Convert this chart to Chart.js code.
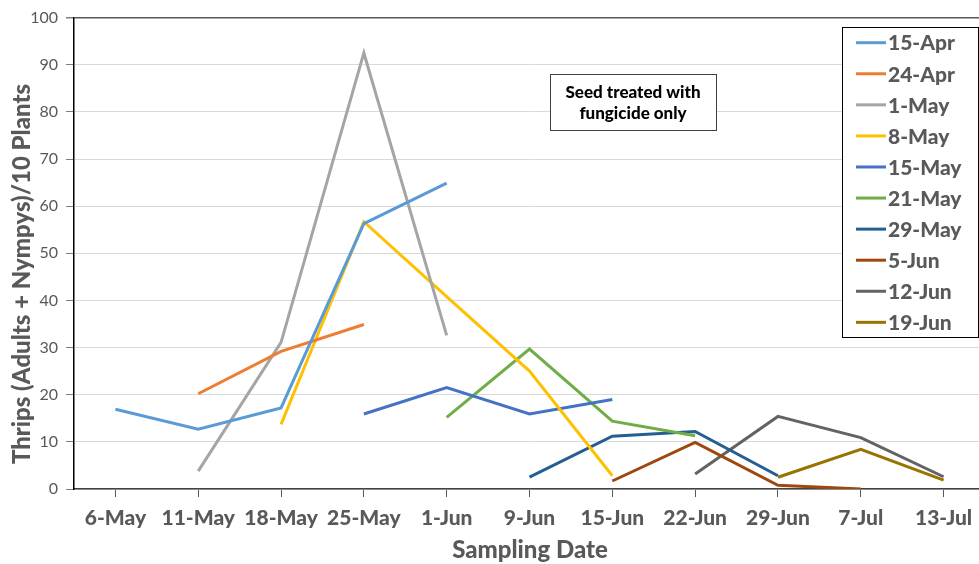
<!DOCTYPE html>
<html>
<head>
<meta charset="utf-8">
<script src="https://cdn.jsdelivr.net/npm/chart.js@4"></script>
<style>
  html, body { margin: 0; padding: 0; background: #fff; overflow: hidden; }
  canvas { display: block; }
</style>
</head>
<body>
<canvas id="c" width="990" height="564"></canvas>
<script>
// Sampling dates along the x axis
const samplingDates = ['6-May', '11-May', '18-May', '25-May', '1-Jun', '9-Jun', '15-Jun', '22-Jun', '29-Jun', '7-Jul', '13-Jul'];

// Planting dates (one series each) and their thrips counts per 10 plants
const plantingDates = ['15-Apr', '24-Apr', '1-May', '8-May', '15-May', '21-May', '29-May', '5-Jun', '12-Jun', '19-Jun'];
const apr15 = [16.9, 12.7, 17.2, 56.3, 64.9, null, null, null, null, null, null];
const apr24 = [null, 20.2, 29.2, 34.9, null, null, null, null, null, null, null];
const may1  = [null, 3.8, 31.1, 92.5, 32.6, null, null, null, null, null, null];
const may8  = [null, null, 13.7, 56.7, 40.8, 25.0, 2.8, null, null, null, null];
const may15 = [null, null, null, 15.9, 21.5, 15.9, 19.0, null, null, null, null];
const may21 = [null, null, null, null, 15.2, 29.7, 14.4, 11.3, null, null, null];
const may29 = [null, null, null, null, null, 2.5, 11.2, 12.2, 2.8, null, null];
const jun5  = [null, null, null, null, null, null, 1.7, 9.9, 0.8, 0.0, null];
const jun12 = [null, null, null, null, null, null, null, 3.2, 15.4, 10.9, 2.6];
const jun19 = [null, null, null, null, null, null, null, null, 2.5, 8.4, 1.9];

const yTicks = [0, 10, 20, 30, 40, 50, 60, 70, 80, 90, 100];
const yTitle = 'Thrips (Adults + Nympys)/10 Plants';
const xTitle = 'Sampling Date';
const noteLines = ['Seed treated with', 'fungicide only'];

const seriesValues = [apr15, apr24, may1, may8, may15, may21, may29, jun5, jun12, jun19];
const seriesColors = ['#5B9BD5', '#ED7D31', '#A5A5A5', '#FFC000', '#4472C4', '#70AD47', '#255E91', '#9E480E', '#636363', '#997300'];

const FONT = 'Lato, "Open Sans", sans-serif';
const HEAVY = '900';
const TEXT = '#595959';

// Axis titles, the note box and the boxed legend
const decorations = {
  id: 'decorations',
  afterDraw(chart) {
    const ctx = chart.ctx;
    ctx.save();

    // y axis title
    ctx.fillStyle = TEXT;
    ctx.font = HEAVY + ' 24px ' + FONT;
    ctx.textAlign = 'center';
    ctx.textBaseline = 'middle';
    ctx.translate(22, 274);
    ctx.rotate(-Math.PI / 2);
    ctx.fillText(yTitle, 0, 0);
    ctx.setTransform(1, 0, 0, 1, 0, 0);

    // x axis title
    ctx.fillText(xTitle, 530, 550);

    // note box
    ctx.fillStyle = '#fff';
    ctx.fillRect(550.5, 74.5, 166, 56);
    ctx.strokeStyle = '#404040';
    ctx.lineWidth = 1;
    ctx.strokeRect(550.5, 74.5, 166, 56);
    ctx.fillStyle = '#000';
    ctx.font = HEAVY + ' 17px ' + FONT;
    ctx.fillText(noteLines[0], 633, 93);
    ctx.fillText(noteLines[1], 633, 114);

    // legend
    const lx = 842, ly = 27, lw = 136, lh = 310, step = 31.07;
    ctx.fillStyle = '#fff';
    ctx.fillRect(lx, ly, lw, lh);
    ctx.strokeStyle = '#000';
    ctx.lineWidth = 1;
    ctx.strokeRect(lx + 0.5, ly + 0.5, lw, lh);
    ctx.textAlign = 'left';
    ctx.font = HEAVY + ' 21px ' + FONT;
    chart.data.datasets.forEach((ds, i) => {
      const y = 42.7 + i * step;
      ctx.strokeStyle = ds.borderColor;
      ctx.lineWidth = 3;
      ctx.beginPath();
      ctx.moveTo(856, y);
      ctx.lineTo(886, y);
      ctx.stroke();
      ctx.fillStyle = TEXT;
      ctx.fillText(ds.label, 888, y + 1);
    });
    ctx.restore();
  }
};

new Chart(document.getElementById('c'), {
  type: 'line',
  data: {
    labels: samplingDates,
    datasets: plantingDates.map((name, i) => ({
      label: name,
      data: seriesValues[i],
      borderColor: seriesColors[i],
      backgroundColor: seriesColors[i],
      borderWidth: 3,
      pointRadius: 0,
      tension: 0,
      spanGaps: false
    }))
  },
  options: {
    responsive: false,
    animation: false,
    layout: { padding: { top: 16, right: 5, left: 0, bottom: 0 } },
    plugins: { legend: { display: false }, tooltip: { enabled: false } },
    scales: {
      x: {
        offset: true,
        afterFit(scale) { scale.height = 75; },
        grid: { drawOnChartArea: false, drawTicks: true, tickLength: 8, tickColor: '#595959', offset: false },
        border: { color: '#404040', width: 1.5 },
        ticks: { color: TEXT, font: { family: FONT, size: 21, weight: HEAVY }, padding: 9, maxRotation: 0, autoSkip: false }
      },
      y: {
        min: 0,
        max: 100,
        afterFit(scale) { scale.width = 74; },
        afterBuildTicks(scale) { scale.ticks = yTicks.map(v => ({ value: v })); },
        grid: {
          color: c => (c.tick && c.tick.value === 100 ? '#595959' : '#d9d9d9'),
          lineWidth: c => (c.tick && c.tick.value === 100 ? 1.5 : 1),
          tickLength: 8,
          tickColor: '#7f7f7f'
        },
        border: { color: '#000', width: 1.5 },
        ticks: { color: TEXT, font: { family: FONT, size: 16 }, padding: 8 }
      }
    }
  },
  plugins: [decorations]
});
</script>
</body>
</html>
